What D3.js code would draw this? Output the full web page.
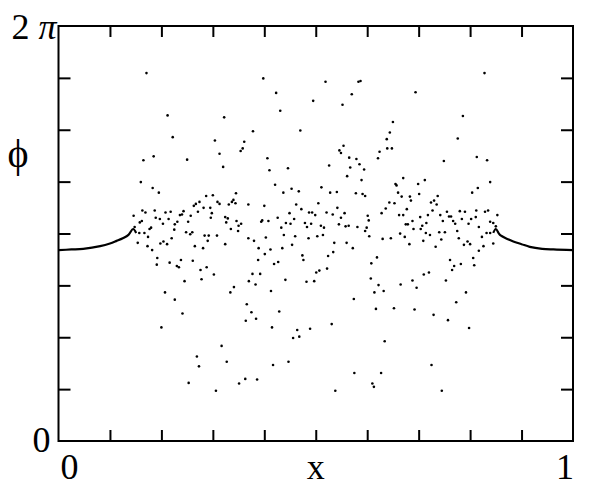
<!DOCTYPE html>
<html>
<head>
<meta charset="utf-8">
<script src="https://cdn.jsdelivr.net/npm/d3@7"></script>
<style>
  body { margin: 0; background: #fff; }
  text { font-family: "Liberation Serif", "DejaVu Serif", serif; fill: #000; }
</style>
</head>
<body>
<div id="container"></div>
<script>
var W = 600, H = 496;
var margin = {left: 58.5, right: 27, top: 26, bottom: 55};

// scattered points (x, phi in radians)
var scatterX = [0.171,0.212,0.322,0.222,0.304,0.361,0.358,0.354,0.313,0.165,0.185,0.250,0.320,0.160,0.183,0.195,0.345,0.287,0.300,0.274,
  0.267,0.263,0.309,0.313,0.340,0.337,0.344,0.331,0.369,0.146,0.163,0.169,0.187,0.197,0.208,0.218,0.236,0.243,0.240,0.257,
  0.271,0.282,0.295,0.298,0.296,0.324,0.329,0.346,0.355,0.350,0.189,0.203,0.214,0.226,0.231,0.252,0.158,0.162,0.148,0.177,
  0.180,0.326,0.335,0.225,0.157,0.167,0.174,0.154,0.173,0.182,0.198,0.204,0.211,0.220,0.248,0.256,0.260,0.265,0.284,0.292,
  0.290,0.281,0.308,0.324,0.349,0.369,0.192,0.191,0.216,0.230,0.234,0.238,0.261,0.276,0.288,0.302,0.278,0.245,0.207,0.226,
  0.241,0.200,0.341,0.334,0.366,0.364,0.370,0.317,0.269,0.273,0.327,0.253,0.306,0.351,0.363,0.398,0.423,0.431,0.495,0.519,
  0.583,0.587,0.570,0.552,0.378,0.470,0.554,0.546,0.549,0.624,0.621,0.406,0.410,0.446,0.526,0.565,0.579,0.585,0.567,0.594,
  0.561,0.589,0.421,0.437,0.453,0.467,0.511,0.528,0.541,0.578,0.591,0.596,0.400,0.462,0.472,0.505,0.487,0.493,0.499,0.521,
  0.533,0.542,0.556,0.549,0.601,0.603,0.449,0.458,0.426,0.396,0.394,0.408,0.442,0.451,0.433,0.479,0.483,0.491,0.510,0.516,
  0.545,0.558,0.564,0.581,0.599,0.380,0.403,0.389,0.401,0.412,0.388,0.419,0.427,0.435,0.438,0.454,0.460,0.474,0.476,0.486,
  0.503,0.514,0.536,0.560,0.572,0.534,0.524,0.501,0.507,0.522,0.482,0.497,0.441,0.377,0.392,0.383,0.413,0.574,0.607,0.614,
  0.622,0.608,0.619,0.604,0.596,0.617,0.375,0.384,0.429,0.415,0.464,0.456,0.468,0.489,0.531,0.417,0.447,0.386,0.538,0.575,
  0.610,0.613,0.828,0.694,0.786,0.650,0.644,0.638,0.639,0.648,0.776,0.749,0.813,0.833,0.839,0.815,0.804,0.670,0.655,0.657,
  0.699,0.712,0.660,0.667,0.701,0.683,0.685,0.643,0.653,0.636,0.628,0.677,0.662,0.670,0.730,0.724,0.737,0.735,0.727,0.718,
  0.703,0.742,0.755,0.747,0.759,0.763,0.767,0.771,0.780,0.790,0.784,0.797,0.802,0.811,0.812,0.829,0.835,0.853,0.839,0.845,
  0.850,0.817,0.675,0.679,0.688,0.707,0.715,0.690,0.704,0.630,0.646,0.664,0.673,0.682,0.709,0.714,0.722,0.733,0.740,0.744,
  0.751,0.775,0.778,0.788,0.795,0.800,0.823,0.826,0.817,0.832,0.839,0.845,0.806,0.808,0.761,0.769,0.765,0.782,0.720,0.710,
  0.688,0.696,0.665,0.632,0.753,0.792,0.773,0.652,0.692,0.729,0.757,0.798,0.634,0.627,0.725,0.745];
var scatterPhi = [5.57,4.93,4.90,4.60,4.55,4.53,4.43,4.39,4.35,4.25,4.31,4.26,4.15,3.92,3.83,3.76,3.75,3.71,3.72,3.62,
  3.59,3.56,3.62,3.59,3.65,3.62,3.60,3.58,3.58,3.41,3.49,3.46,3.49,3.36,3.46,3.47,3.42,3.48,3.43,3.41,
  3.47,3.53,3.53,3.45,3.38,3.39,3.37,3.33,3.29,3.26,3.38,3.29,3.36,3.28,3.32,3.32,3.31,3.33,3.24,3.21,
  3.23,3.31,3.21,3.20,3.15,3.15,3.09,3.00,2.95,2.89,2.99,3.02,2.98,3.07,3.16,3.13,3.16,2.95,3.11,3.11,
  3.03,2.92,3.11,2.98,3.18,3.07,2.77,2.67,2.70,2.65,2.63,2.74,2.73,2.59,2.63,2.52,2.45,2.42,2.25,2.14,
  1.93,1.72,2.33,2.25,2.07,1.82,2.42,1.44,1.28,1.13,1.20,0.88,0.76,0.87,0.94,5.49,5.27,5.00,5.15,5.44,
  5.44,5.45,5.25,5.09,4.69,4.70,4.47,4.40,4.36,4.38,4.28,4.28,4.10,4.13,4.17,4.29,4.27,4.19,4.14,4.11,
  4.01,3.95,3.88,3.76,3.82,3.78,3.84,3.76,3.77,3.75,3.74,3.71,3.56,3.58,3.51,3.60,3.46,3.46,3.42,3.46,
  3.43,3.53,3.45,3.38,3.41,3.34,3.45,3.36,3.38,3.34,3.32,3.33,3.30,3.29,3.23,3.30,3.24,3.29,3.26,3.23,
  3.28,3.25,3.26,3.24,3.23,3.03,3.08,2.92,2.83,2.90,2.74,2.68,2.71,2.92,3.12,2.97,3.10,2.81,2.74,3.07,
  3.10,3.12,3.00,3.00,2.92,2.86,2.80,2.55,2.58,2.61,2.41,2.42,2.44,2.53,2.53,2.37,2.27,2.15,2.46,2.25,
  2.36,2.69,2.78,3.10,3.18,2.00,1.95,1.85,1.96,1.72,1.68,1.56,1.58,1.70,1.77,1.15,1.20,0.93,0.76,1.03,
  0.87,0.82,5.57,5.28,4.92,4.83,4.67,4.57,4.43,4.43,4.58,4.24,4.30,4.25,3.92,3.83,3.76,3.98,3.89,3.87,
  3.89,3.95,3.76,3.70,3.74,3.70,3.64,3.61,3.60,3.52,3.45,3.51,3.42,3.42,3.64,3.61,3.71,3.58,3.49,3.42,
  3.39,3.42,3.47,3.33,3.40,3.40,3.33,3.29,3.48,3.47,3.36,3.29,3.36,3.39,3.49,3.47,3.49,3.42,3.32,3.30,
  3.25,3.24,3.28,3.28,3.33,3.26,3.30,3.21,3.21,3.06,3.07,3.14,3.09,2.98,3.03,3.15,3.12,2.94,3.16,3.05,
  3.16,3.18,3.07,2.97,3.02,2.98,3.09,2.95,2.88,3.15,3.15,2.99,2.77,2.66,2.74,2.65,2.59,2.68,2.55,2.52,
  2.43,2.32,2.37,2.27,2.43,2.25,2.10,2.01,1.99,1.91,1.83,1.71,1.51,1.03,1.15,0.76];

// smooth branches at both ends
var leftCurveX = [0, 0.025, 0.048, 0.081, 0.100, 0.113, 0.125, 0.136, 0.145, 0.151];
var leftCurvePhi = [2.89, 2.90, 2.91, 2.95, 2.99, 3.03, 3.07, 3.12, 3.21, 3.15];
var rightCurveX = [0.845, 0.850, 0.858, 0.875, 0.884, 0.900, 0.916, 0.940, 0.962, 1.0];
var rightCurvePhi = [3.15, 3.21, 3.12, 3.05, 3.02, 2.98, 2.94, 2.91, 2.90, 2.89];

var xTicks = d3.range(1, 10).map(function (i) { return i / 10; });
var yTicks = d3.range(1, 8).map(function (i) { return i * Math.PI / 4; });

var svg = d3.select('#container')
  .append('svg')
  .attr('width', W).attr('height', H)
  .style('background', '#fff');

var x = d3.scaleLinear().domain([0, 1]).range([margin.left, W - margin.right]);
var y = d3.scaleLinear().domain([0, 2 * Math.PI]).range([H - margin.bottom, margin.top]);

function styleAxis(g) {
  g.select('.domain').remove();
  g.selectAll('.tick line').attr('stroke', '#000').attr('stroke-width', 2);
  g.selectAll('.tick text').remove();
}

svg.append('g').attr('transform', 'translate(' + x(0) + ',0)')
  .call(d3.axisLeft(y).tickValues(yTicks).tickSize(-12)).call(styleAxis);
svg.append('g').attr('transform', 'translate(' + x(1) + ',0)')
  .call(d3.axisRight(y).tickValues(yTicks).tickSize(-12)).call(styleAxis);
svg.append('g').attr('transform', 'translate(0,' + y(0) + ')')
  .call(d3.axisBottom(x).tickValues(xTicks).tickSize(-11)).call(styleAxis);
svg.append('g').attr('transform', 'translate(0,' + y(2 * Math.PI) + ')')
  .call(d3.axisTop(x).tickValues(xTicks).tickSize(-11)).call(styleAxis);

// frame
svg.append('rect')
  .attr('x', x(0)).attr('y', y(2 * Math.PI))
  .attr('width', x(1) - x(0)).attr('height', y(0) - y(2 * Math.PI))
  .attr('fill', 'none').attr('stroke', '#000').attr('stroke-width', 2);

var line = d3.line()
  .x(function (d) { return x(d[0]); })
  .y(function (d) { return y(d[1]); })
  .curve(d3.curveCatmullRom);

svg.append('path')
  .datum(d3.zip(leftCurveX, leftCurvePhi))
  .attr('d', line)
  .attr('fill', 'none').attr('stroke', '#000').attr('stroke-width', 2.2);
svg.append('path')
  .datum(d3.zip(rightCurveX, rightCurvePhi))
  .attr('d', line)
  .attr('fill', 'none').attr('stroke', '#000').attr('stroke-width', 2.2);

svg.selectAll('.dot')
  .data(d3.zip(scatterX, scatterPhi))
  .enter().append('circle')
  .attr('class', 'dot')
  .attr('cx', function (d) { return x(d[0]); })
  .attr('cy', function (d) { return y(d[1]); })
  .attr('r', 1.3)
  .attr('fill', '#000');

// labels
var fs = 36;
var topLabel = svg.append('text')
  .attr('x', x(0) - 2).attr('y', y(2 * Math.PI) + 13)
  .attr('text-anchor', 'end').style('font-size', fs + 'px');
topLabel.append('tspan').text('2 ');
topLabel.append('tspan').style('font-style', 'italic').text('π');

svg.append('text')
  .attr('x', 18).attr('y', 167)
  .attr('text-anchor', 'middle').style('font-size', '40px')
  .text('ϕ');

svg.append('text')
  .attr('x', x(0) - 8).attr('y', y(0) + 11)
  .attr('text-anchor', 'end').style('font-size', fs + 'px')
  .text('0');

svg.append('text')
  .attr('x', x(0) + 11).attr('y', y(0) + 38)
  .attr('text-anchor', 'middle').style('font-size', fs + 'px')
  .text('0');
svg.append('text')
  .attr('x', x(0.5)).attr('y', y(0) + 38)
  .attr('text-anchor', 'middle').style('font-size', fs + 'px')
  .text('x');
svg.append('text')
  .attr('x', x(1) - 8).attr('y', y(0) + 38)
  .attr('text-anchor', 'middle').style('font-size', fs + 'px')
  .text('1');
</script>
</body>
</html>
